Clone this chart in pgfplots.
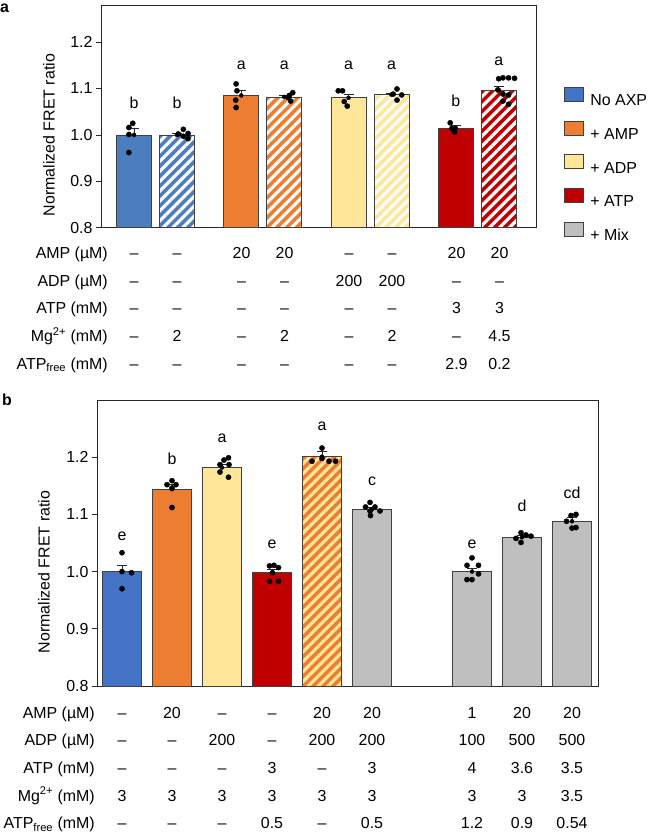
\documentclass[border=0pt]{standalone}
\usepackage{fontspec}
\setmainfont{Liberation Sans}
\usepackage{pgfplots}
\pgfplotsset{compat=1.18}
\usetikzlibrary{patterns.meta}

\definecolor{cBlueA}{HTML}{4C7DBF}
\definecolor{cBlue}{HTML}{4472C4}
\definecolor{cOrange}{HTML}{ED7D31}
\definecolor{cYellow}{HTML}{FFE699}
\definecolor{cRed}{HTML}{C00000}
\definecolor{cGray}{HTML}{BFBFBF}
\newcommand{\fs}{\fontsize{16}{19}\selectfont}

\pgfplotsset{
  panel/.style={
    scale only axis, enlargelimits=false,
    xtick=\empty, ytick={0.8,0.9,1.0,1.1,1.2},
    ytick pos=left, tick align=outside, major tick length=5bp,
    tick style={black!85, line width=0.8bp},
    axis line style={black!85, line width=0.8bp},
    y tick label style={/pgf/number format/.cd, fixed, fixed zerofill, precision=1, assume math mode=true, /tikz/.cd, font=\fs},
    ylabel={Normalized FRET ratio},
  },
  onebar/.style={ybar, bar shift=0pt, draw=black!75, line width=0.7bp, forget plot},
  stripes/.style={ybar, bar shift=0pt, forget plot, draw=black!75, line width=0.7bp,
     pattern={Lines[angle=45,distance=7bp,line width=3.2bp]}, pattern color=#1},
  dots/.style={only marks, mark=*, mark size=2.6bp, mark options={fill=black, draw=black}, forget plot},
  errs/.style={only marks, mark=none, forget plot, error bars/.cd, y dir=plus, y explicit,
    error bar style={black!85, line width=0.8bp},
    error mark options={rotate=90, black!85, mark size=5bp, line width=0.8bp}},
}

\begin{document}
\begin{tikzpicture}
\useasboundingbox (0,0) rectangle (649bp,-836bp);

% ---------------- panel a ----------------
\begin{axis}[panel,
  at={(101bp,-227.7bp)}, anchor=south west,
  width=435bp, height=222.7bp,
  xmin=-0.77, xmax=9.37, ymin=0.8, ymax=1.28,
  every axis y label/.style={at={(axis description cs:-0.1195,0.416)}, rotate=90, anchor=center, font=\fs},
  legend style={at={(axis description cs:1.0651,0.6331)}, anchor=north west, draw=none, fill=none,
    inner sep=0pt, outer sep=0pt, row sep=15bp, column sep=6.5bp, font=\fs,
    nodes={inner sep=0pt, text height=11.5bp, text depth=0pt}, cells={anchor=west}},
  legend image code/.code={\draw[#1] (0bp,-1.25bp) rectangle (19bp,12.75bp);},
]
\addlegendimage{fill=cBlue, draw=black!75, line width=0.6bp}\addlegendentry{No AXP}
\addlegendimage{fill=cOrange, draw=black!75, line width=0.6bp}\addlegendentry{+ AMP}
\addlegendimage{fill=cYellow, draw=black!75, line width=0.6bp}\addlegendentry{+ ADP}
\addlegendimage{fill=cRed, draw=black!75, line width=0.6bp}\addlegendentry{+ ATP}
\addlegendimage{fill=cGray, draw=black!75, line width=0.6bp}\addlegendentry{+ Mix}

\addplot[onebar, bar width=35bp, fill=cBlueA] coordinates {(0,1.000)};
\addplot[onebar, bar width=35bp, fill=cBlueA] coordinates {(1,1.000)};
\addplot[stripes=white, bar width=35bp] coordinates {(1,1.000)};
\addplot[onebar, bar width=35bp, fill=cOrange] coordinates {(2.5,1.085)};
\addplot[onebar, bar width=35bp, fill=cOrange] coordinates {(3.5,1.082)};
\addplot[stripes=white, bar width=35bp] coordinates {(3.5,1.082)};
\addplot[onebar, bar width=35bp, fill=cYellow] coordinates {(5,1.080)};
\addplot[onebar, bar width=35bp, fill=cYellow] coordinates {(6,1.087)};
\addplot[stripes=white, bar width=35bp] coordinates {(6,1.087)};
\addplot[onebar, bar width=35bp, fill=cRed] coordinates {(7.5,1.015)};
\addplot[onebar, bar width=35bp, fill=cRed] coordinates {(8.5,1.097)};
\addplot[stripes=white, bar width=35bp] coordinates {(8.5,1.097)};

\addplot[errs] coordinates {
 (0,1.000) +- (0,0.014)
 (1,1.000) +- (0,0.003)
 (2.5,1.085) +- (0,0.011)
 (3.5,1.082) +- (0,0.004)
 (5,1.080) +- (0,0.007)
 (6,1.087) +- (0,0.002)
 (7.5,1.015) +- (0,0.006)
 (8.5,1.097) +- (0,0.008)
};

\addplot[dots] coordinates {
 (-0.03,1.025) (-0.12,1.016) (-0.12,1.001) (-0.12,0.962)
 (1.03,1.002) (1.15,1.012) (1.26,1.003) (1.15,0.997) (1.26,0.992)
 (2.38,1.110) (2.40,1.095) (2.37,1.075) (2.38,1.059)
 (3.70,1.091) (3.62,1.085) (3.60,1.080) (3.65,1.073)
 (4.76,1.095) (4.86,1.095) (4.90,1.072) (4.97,1.062)
 (6.13,1.099) (6.04,1.088) (6.24,1.086) (6.13,1.075)
 (7.37,1.026) (7.41,1.014) (7.46,1.010) (7.47,1.006)
 (8.50,1.121) (8.60,1.123) (8.73,1.123) (8.87,1.122) (8.48,1.097) (8.60,1.088) (8.73,1.086) (8.60,1.073) (8.73,1.066)
};

\node[font=\fs, anchor=base] at (axis cs:0,1.057) {b};
\node[font=\fs, anchor=base] at (axis cs:1,1.057) {b};
\node[font=\fs, anchor=base] at (axis cs:2.5,1.140) {a};
\node[font=\fs, anchor=base] at (axis cs:3.5,1.140) {a};
\node[font=\fs, anchor=base] at (axis cs:5,1.140) {a};
\node[font=\fs, anchor=base] at (axis cs:6,1.140) {a};
\node[font=\fs, anchor=base] at (axis cs:7.5,1.062) {b};
\node[font=\fs, anchor=base] at (axis cs:8.5,1.149) {a};
\end{axis}

% ---------------- panel b ----------------
\begin{axis}[panel,
  at={(97bp,-686bp)}, anchor=south west,
  width=501bp, height=286bp,
  xmin=-0.5, xmax=9.52, ymin=0.8, ymax=1.3,
  every axis y label/.style={at={(axis description cs:-0.1058,0.3986)}, rotate=90, anchor=center, font=\fs},
]
\addplot[onebar, bar width=39.5bp, fill=cBlue] coordinates {(0,1.000)};
\addplot[onebar, bar width=39.5bp, fill=cOrange] coordinates {(1,1.144)};
\addplot[onebar, bar width=39.5bp, fill=cYellow] coordinates {(2,1.182)};
\addplot[onebar, bar width=39.5bp, fill=cRed] coordinates {(3,0.998)};
\addplot[onebar, bar width=39.5bp, fill=cOrange] coordinates {(4,1.201)};
\addplot[stripes=cYellow, bar width=39.5bp] coordinates {(4,1.201)};
\addplot[onebar, bar width=39.5bp, fill=cGray] coordinates {(5,1.109)};
\addplot[onebar, bar width=39.5bp, fill=cGray] coordinates {(7,1.000)};
\addplot[onebar, bar width=39.5bp, fill=cGray] coordinates {(8,1.060)};
\addplot[onebar, bar width=39.5bp, fill=cGray] coordinates {(9,1.088)};

\addplot[errs] coordinates {
 (0,1.000) +- (0,0.011)
 (1,1.144) +- (0,0.008)
 (2,1.182) +- (0,0.005)
 (3,0.998) +- (0,0.005)
 (4,1.201) +- (0,0.010)
 (5,1.109) +- (0,0.004)
 (7,1.000) +- (0,0.006)
 (8,1.060) +- (0,0.003)
 (9,1.088) +- (0,0.006)
};

\addplot[dots] coordinates {
 (0,1.033) (0,1.000) (0.19,0.998) (0,0.970)
 (1.0,1.159) (0.9,1.152) (1.08,1.152) (1.0,1.146) (1.0,1.112)
 (2.13,1.199) (2.04,1.195) (1.96,1.187) (2.14,1.187) (1.96,1.174) (2.13,1.165)
 (2.95,1.010) (3.04,1.011) (3.13,1.007) (3.01,0.998) (2.95,0.983) (3.13,0.983)
 (4.0,1.216) (3.80,1.193) (4.0,1.198) (4.14,1.193) (4.27,1.193)
 (4.87,1.113) (4.96,1.121) (5.06,1.113) (5.16,1.106) (4.96,1.106) (4.97,1.098)
 (7.0,1.024) (6.9,1.011) (7.13,1.011) (7.13,0.996) (6.9,0.986) (7.0,0.986)
 (7.98,1.068) (7.88,1.058) (8.08,1.064) (8.18,1.062) (7.98,1.051)
 (8.98,1.098) (9.08,1.100) (8.89,1.088) (9.0,1.076) (9.08,1.077)
};

\node[font=\fs, anchor=base] at (axis cs:0,1.054) {e};
\node[font=\fs, anchor=base] at (axis cs:1,1.187) {b};
\node[font=\fs, anchor=base] at (axis cs:2,1.225) {a};
\node[font=\fs, anchor=base] at (axis cs:3,1.040) {e};
\node[font=\fs, anchor=base] at (axis cs:4,1.247) {a};
\node[font=\fs, anchor=base] at (axis cs:5,1.150) {c};
\node[font=\fs, anchor=base] at (axis cs:7,1.041) {e};
\node[font=\fs, anchor=base] at (axis cs:8,1.105) {d};
\node[font=\fs, anchor=base] at (axis cs:9,1.128) {cd};
\end{axis}

% panel letters
\node[font=\fs\bfseries, anchor=base west, inner sep=0pt] at (0bp,-12bp) {a};
\node[font=\fs\bfseries, anchor=base west, inner sep=0pt] at (2bp,-405bp) {b};

% condition table, panel a
\begin{scope}[every node/.style={font=\fs, inner sep=0pt}]
\node[anchor=base east] at (108bp,-258.7bp) {AMP (µM)};
\node[anchor=base east] at (108bp,-286.3bp) {ADP (µM)};
\node[anchor=base east] at (108bp,-313.9bp) {ATP (mM)};
\node[anchor=base east] at (108bp,-341.5bp) {Mg\textsuperscript{2+} (mM)};
\node[anchor=base east] at (108bp,-369.1bp) {ATP\textsubscript{free} (mM)};
\foreach \cx/\va/\vb/\vc/\vd/\ve in {134/–/–/–/–/–, 177/–/–/–/2/–, 241.5/20/–/–/–/–, 284.5/20/–/–/2/–, 349/–/200/–/–/–, 392/–/200/–/2/–, 456.5/20/–/3/–/2.9, 499.5/20/–/3/4.5/0.2}{
  \node[anchor=base] at (\cx bp,-258.7bp) {\va};
  \node[anchor=base] at (\cx bp,-286.3bp) {\vb};
  \node[anchor=base] at (\cx bp,-313.9bp) {\vc};
  \node[anchor=base] at (\cx bp,-341.5bp) {\vd};
  \node[anchor=base] at (\cx bp,-369.1bp) {\ve};
}
% condition table, panel b
\node[anchor=base east] at (95bp,-718.2bp) {AMP (µM)};
\node[anchor=base east] at (95bp,-745.7bp) {ADP (µM)};
\node[anchor=base east] at (95bp,-773.4bp) {ATP (mM)};
\node[anchor=base east] at (95bp,-801bp) {Mg\textsuperscript{2+} (mM)};
\node[anchor=base east] at (95bp,-828.7bp) {ATP\textsubscript{free} (mM)};
\foreach \cx/\va/\vb/\vc/\vd/\ve in {122/–/–/–/3/–, 172/20/–/–/3/–, 222/–/200/–/3/–, 272/–/–/3/3/0.5, 322/20/200/–/3/–, 372/20/200/3/3/0.5, 472/1/100/4/3/1.2, 522/20/500/3.6/3/0.9, 572/20/500/3.5/3.5/0.54}{
  \node[anchor=base] at (\cx bp,-718.2bp) {\va};
  \node[anchor=base] at (\cx bp,-745.7bp) {\vb};
  \node[anchor=base] at (\cx bp,-773.4bp) {\vc};
  \node[anchor=base] at (\cx bp,-801bp) {\vd};
  \node[anchor=base] at (\cx bp,-828.7bp) {\ve};
}
\end{scope}
\end{tikzpicture}
\end{document}
